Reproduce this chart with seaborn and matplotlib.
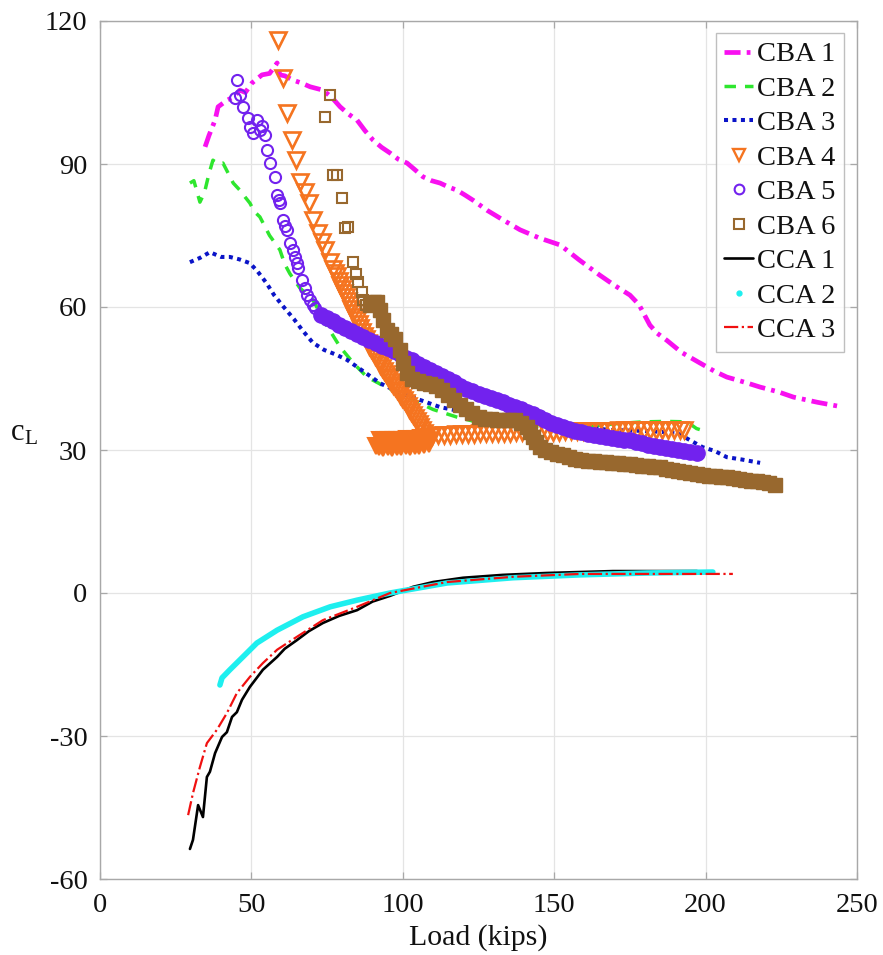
import numpy as np
import matplotlib
matplotlib.use("Agg")
import matplotlib.pyplot as plt
from matplotlib.lines import Line2D
import seaborn as sns

# ---------------- data ----------------
cba1_load = [34.7, 36, 38, 39, 42, 44, 46.2, 48, 50.2, 53.5, 56, 58.5, 59.4, 61, 63.7, 66.5, 69.4, 73.6,
             76.5, 79.3, 82, 84.9, 87.5, 90.2, 93, 95.8, 98.5, 101.4, 104, 106.7, 109.5, 112.3, 115,
             117.9, 120.5, 123.2, 127.8, 133, 138.7, 145, 152, 158, 165, 170, 175, 178, 181.6, 184,
             187.2, 192, 198, 203, 207, 213, 218, 224, 229, 237, 245.4]
cba1_cl = [93.6, 96, 99.2, 102, 103.4, 104, 105.5, 105, 107, 108.7, 109, 111.2, 108.7, 108.5, 107.6, 107,
           106.2, 105.5, 104, 102, 100.5, 99.2, 97, 95, 93.5, 92.3, 91, 90.2, 88.8, 87.3, 86.5, 86, 85.2,
           84.5, 83.5, 82.4, 80.3, 78.3, 76.2, 74.5, 73, 70, 66.7, 64.5, 62.5, 60.5, 56.2, 54.5, 53,
           50.5, 48.3, 46.5, 45.3, 44.2, 43.2, 42.2, 41.1, 40, 39]

cba2_load = [29.7, 31, 33, 34.5, 36, 37.3, 39, 40.6, 42.3, 44, 46.2, 48, 49.5, 51, 52.8, 56, 59.4, 61,
             62.7, 66, 70.3, 75, 79.3, 84, 88.2, 95, 103.4, 110, 117.9, 125.5, 135, 145, 159.5, 170,
             179.3, 187, 193.9, 197, 200.5]
cba2_cl = [86, 86.5, 82, 84, 88, 90.8, 90, 90.2, 88.1, 86, 84.5, 83, 81.8, 80, 78.9, 75, 72, 69, 67, 64,
           61.5, 56, 51.6, 48, 45.3, 43, 40.5, 38.5, 36.9, 35.7, 35.2, 35, 34.8, 35.5, 35.9, 36, 35.9,
           34.5, 33.8]

cba3_load = [29.7, 33, 36.3, 40, 42.9, 46, 49.5, 52, 55, 57.5, 60.4, 64, 67, 70.3, 74, 78, 81.6, 87,
             92.5, 99, 105.7, 112.3, 120, 130, 140, 150, 160, 168.4, 180, 190.6, 195, 199, 203, 207,
             212, 218]
cba3_cl = [69.4, 70.3, 71.5, 70.5, 70.5, 70, 69.2, 67.5, 65, 62.5, 60.2, 57.5, 55, 52.5, 51, 50, 48.9,
           46.5, 44, 42, 40.5, 39, 38, 37.3, 36.5, 35.5, 34.8, 34.2, 34, 33.6, 32, 30.6, 29.8, 28.5,
           28, 27.3]

cba4_load = [58.8, 60.4, 61.8, 63.4, 64.7, 66, 67.7, 69, 70.3, 72, 73.3, 74.3, 76,
             77, 78.2, 79.4, 80.6, 81.8, 83, 84.2, 85.4, 86.6, 87.8, 89, 90.2, 91.4, 92.6, 93.8, 95,
             96.2, 97.4, 98.6, 99.8, 101, 102.2, 103.4, 104.6, 105.8, 107, 108.2,
             109.5, 111.5, 113.5, 115.5, 117.5, 119.5, 121.5, 123.5, 125.5, 127.5, 129.5, 131.5,
             133.5, 135.5, 137.5, 139.5, 141.5, 143.5, 145.5, 147.5, 149.5, 151.5, 153.5, 155.5,
             157.5, 159.5, 161.5, 163.5, 165.5, 167.5, 169.5, 171.5, 173.5, 175.5, 177.5, 179.5,
             181.5, 183.5, 185.5, 187.5, 189.5, 191.5, 193]
cba4_cl = [116, 108, 100.7, 95, 90.8, 86.2, 84.1, 81.8, 78.3, 75.5, 73.6, 72, 69.4,
           68, 66.4, 64.7, 63, 61.3, 59.6, 58, 56.4, 54.8, 53.3, 51.8, 50.5, 49.2, 47.9, 46.6, 45.4,
           44.3, 43.2, 42.1, 41, 39.8, 38.6, 37.4, 36.1, 34.8, 33.5, 32.2,
           33.0, 33.1, 33.2, 33.2, 33.3, 33.3, 33.4, 33.4, 33.5, 33.5, 33.5, 33.6, 33.6, 33.6,
           33.7, 33.7, 33.7, 33.7, 33.8, 33.8, 33.8, 33.8, 33.9, 33.9, 33.9, 33.9, 34.0, 34.0,
           34.0, 34.0, 34.0, 34.1, 34.1, 34.1, 34.1, 34.1, 34.1, 34.2, 34.2, 34.2, 34.2, 34.2, 34.1]
# dense middle readings of the descending CBA 4 band
cba4_mid_load = [77.6, 78.8, 80, 81.2, 82.4, 83.6, 84.8, 86, 87.2, 88.4, 89.6, 90.8, 92, 93.2, 94.4,
                 95.6, 96.8, 98, 99.2, 100.4, 101.6, 102.8, 104, 105.2, 106.4, 107.6]
cba4_mid_cl = [67.2, 65.5, 63.8, 62.1, 60.4, 58.8, 57.2, 55.6, 54.0, 52.5, 51.1, 49.8, 48.5, 47.2,
               46.0, 44.8, 43.7, 42.6, 41.5, 40.4, 39.2, 38.0, 36.7, 35.4, 34.1, 32.8]
cba4_blob_load = [108.5, 107, 105.5, 104, 102.5, 101, 99.5, 98, 96.5, 95, 93.5, 92, 91.2,
                  92.5, 94, 95.5, 97, 98.5, 100, 101.5, 103, 104.5, 106, 107.5]
cba4_blob_cl = [31.2, 31.0, 30.8, 30.9, 30.7, 30.8, 30.6, 30.7, 30.5, 30.6, 30.4, 30.6, 30.9,
                32.0, 32.1, 32.0, 32.2, 32.1, 32.2, 32.3, 32.2, 32.4, 32.5, 32.6]

cba5_load = [45.2, 44.6, 46.2, 47.2, 48.9, 49.5, 50.5, 51.8, 52.8, 54.5, 53.5, 55.2, 56.1, 57.8, 58.5,
             59, 59.4, 60.4, 61.2, 61.8, 62.7, 63.7, 64.3, 65, 65.4, 66.7, 67.7, 68.5, 69.4, 70.2,
             71, 72.7]
cba5_cl = [107.6, 103.8, 104.5, 102, 99.6, 97.8, 96.5, 99.2, 97.1, 96.1, 98, 93, 90.2, 87.3, 83.5,
           82.5, 81.8, 78.3, 77, 76.2, 73.4, 72, 70.5, 69.2, 68.2, 65.7, 64, 62.5, 61.5, 60.5, 59.8,
           58.3]
cba5_band_load = [73, 75, 77, 79, 81, 83, 85, 87, 89, 91, 93, 95, 97, 99, 101, 103, 105, 107, 109, 111,
                  113, 115, 117, 119, 121, 123, 125, 127, 129, 131, 133, 135, 137, 139, 141, 143, 145,
                  147, 149, 151, 153, 155, 157, 159, 161, 163, 165, 167, 169, 171, 173, 175, 177, 179,
                  181, 183, 185, 187, 189, 191, 193, 195, 197]
cba5_band_cl = [58.3, 57.7, 57.0, 56.3, 55.6, 55.0, 54.3, 53.7, 53.1, 52.5, 51.9, 51.3, 50.7, 50.1,
                49.4, 48.8, 48.1, 47.5, 46.8, 46.1, 45.5, 44.8, 44.2, 43.5, 42.9, 42.4, 41.8, 41.3,
                40.9, 40.5, 40.0, 39.5, 39.0, 38.5, 38.0, 37.5, 36.9, 36.3, 35.7, 35.2, 34.8, 34.4,
                34.0, 33.7, 33.4, 33.2, 33.0, 32.8, 32.6, 32.4, 32.2, 32.0, 31.7, 31.4, 31.1, 30.8,
                30.6, 30.4, 30.2, 30.0, 29.8, 29.6, 29.4]

cba6_load = [76, 74.3, 77, 78.3, 79.9, 81, 82, 83.6, 84.5, 85.2, 86.5, 86.9, 88]
cba6_cl = [104.5, 99.8, 87.7, 87.7, 82.9, 76.6, 76.8, 69.4, 67, 65.2, 63.2, 61.5, 60.5]
cba6_band_load = [89.2, 90.5, 91.5, 92.5, 93.5, 94.8, 96, 97.5, 99, 100.1, 101.4, 103, 105, 107, 109,
                  111, 113, 115, 117, 119, 121, 123, 125, 127, 129, 131, 133, 135, 137, 139, 141, 142,
                  143, 144, 145.3, 147, 149, 151, 153, 155, 157, 159, 161, 163, 165, 167, 169, 171,
                  173, 175, 177, 179, 181, 183, 185, 187, 189, 191, 193, 195, 197, 199, 201, 203,
                  205, 207, 209, 211, 213, 215, 217, 219, 221, 223]
cba6_band_cl = [60.4, 61, 61, 59.4, 57.3, 55.2, 54.3, 53.2, 51, 48.3, 46.2, 44.9, 44.5, 44.1, 43.9,
                43.5, 42.5, 41.5, 40.5, 39.4, 38.5, 37.8, 36.9, 36.6, 36.4, 36.3, 36.3, 36.3, 36.2,
                35.6, 34.8, 33.8, 32.7, 31.6, 30.6, 30.0, 29.5, 29.2, 28.9, 28.5, 28.1, 27.8, 27.6,
                27.6, 27.5, 27.4, 27.3, 27.2, 27.1, 27.0, 26.8, 26.7, 26.6, 26.5, 26.4, 26.0, 25.8,
                25.6, 25.3, 25.1, 24.9, 24.7, 24.6, 24.5, 24.4, 24.3, 24.1, 23.9, 23.7, 23.6, 23.4,
                23.2, 23.0, 22.7]

cca1_load = [29.7, 30.7, 32.4, 34, 35.3, 36.3, 38, 40.3, 41.9, 43.6, 45.2, 46.9, 49.5, 53.8, 58.5,
             61, 65, 69, 73.6, 79, 84.9, 90, 95.8, 103.4, 110, 119.9, 133, 147.6, 169.4, 197.2]
cca1_cl = [-53.7, -51.8, -44.5, -47, -38.6, -37.5, -33.6, -30.2, -29.2, -26, -25, -22.4, -19.7,
           -16.1, -13.4, -11.7, -9.9, -8, -6.3, -4.8, -3.6, -1.8, -0.6, 1.3, 2.3, 3.2, 3.8, 4.2,
           4.6, 4.6]

cca2_load = [39.6, 40.3, 42.9, 47.2, 51.8, 58.5, 67, 76, 84.9, 95.8, 114.6, 136.4, 158.5, 180.6, 202.4]
cca2_cl = [-19.3, -17.8, -16.1, -13.4, -10.5, -7.8, -5, -2.9, -1.5, 0, 2.1, 3.2, 3.8, 4.2, 4.4]

cca3_load = [29.1, 30.7, 33, 35.3, 38.6, 41.9, 45.2, 49.5, 53.8, 58.5, 65, 73.6, 84.9, 95.8, 114.6,
             136.4, 158.5, 180.6, 209]
cca3_cl = [-46.6, -42, -36.5, -31.5, -28.7, -25.2, -21, -17.6, -14.7, -11.9, -9.2, -5.7, -2.9, 0,
           2.3, 3.4, 4, 4, 4]

labels = ["CBA 1", "CBA 2", "CBA 3", "CBA 4", "CBA 5", "CBA 6", "CCA 1", "CCA 2", "CCA 3"]
x_ticks = [0, 50, 100, 150, 200, 250]
y_ticks = [-60, -30, 0, 30, 60, 90, 120]

# ---------------- styling ----------------
sns.set_theme(style="ticks")
plt.rcParams["font.family"] = ["Liberation Serif", "DejaVu Serif"]
plt.rcParams["mathtext.fontset"] = "stix"

C_MAG = "#F810F0"
C_GRN = "#2EE62E"
C_BLU = "#0A14C8"
C_ORG = "#F57420"
C_PUR = "#7222EE"
C_BRN = "#98682E"
C_BLK = "#000000"
C_CYN = "#1EEFEF"
C_RED = "#F01010"

fig = plt.figure(figsize=(8.83, 9.55), dpi=100)
ax = fig.add_axes([100 / 883, 1 - 879 / 955, 757 / 883, 858 / 955])


def draw(x, y, **kw):
    sns.lineplot(x=np.asarray(x, float), y=np.asarray(y, float), ax=ax, sort=False,
                 estimator=None, errorbar=None, legend=False, **kw)


ls_mag = (0, (3.4, 1.3, 0.8, 1.3))
ls_grn = (0, (3.3, 2.6))
ls_blu = (0, (1.0, 1.1))

draw(cba1_load, cba1_cl, color=C_MAG, linewidth=3.4, linestyle=ls_mag)
draw(cba2_load, cba2_cl, color=C_GRN, linewidth=2.5, linestyle=ls_grn)
draw(cba3_load, cba3_cl, color=C_BLU, linewidth=2.9, linestyle=ls_blu)

draw(cba4_blob_load, cba4_blob_cl, color=C_ORG, linestyle="none", marker="v", markersize=12,
     markerfacecolor=C_ORG, markeredgecolor=C_ORG, markeredgewidth=1.5)
draw(cba4_load, cba4_cl, color=C_ORG, linestyle="none", marker="v", markersize=11.5,
     markerfacecolor="none", markeredgecolor=C_ORG, markeredgewidth=1.9)
draw(cba4_mid_load, cba4_mid_cl, color=C_ORG, linestyle="none", marker="v", markersize=11.5,
     markerfacecolor="none", markeredgecolor=C_ORG, markeredgewidth=1.9)

draw(cba5_load, cba5_cl, color=C_PUR, linestyle="none", marker="o", markersize=8,
     markerfacecolor="none", markeredgecolor=C_PUR, markeredgewidth=1.5)
draw(cba5_band_load, cba5_band_cl, color=C_PUR, linestyle="none", marker="o", markersize=11,
     markerfacecolor=C_PUR, markeredgecolor=C_PUR, markeredgewidth=1.0)

draw(cba6_load, cba6_cl, color=C_BRN, linestyle="none", marker="s", markersize=7,
     markerfacecolor="none", markeredgecolor=C_BRN, markeredgewidth=1.5)
draw(cba6_band_load, cba6_band_cl, color=C_BRN, linestyle="none", marker="s", markersize=9.5,
     markerfacecolor=C_BRN, markeredgecolor=C_BRN, markeredgewidth=1.0)

draw(cca1_load, cca1_cl, color=C_BLK, linewidth=1.9)
draw(cca2_load, cca2_cl, color=C_CYN, linewidth=4.0)
draw(cca3_load, cca3_cl, color=C_RED, linewidth=1.6, linestyle="-.")

# ---------------- axes ----------------
ax.set_xlim(0, 250)
ax.set_ylim(-60, 120)
ax.set_xticks(x_ticks)
ax.set_yticks(y_ticks)
ax.set_xticklabels([str(v) for v in x_ticks])
ax.set_yticklabels([str(v) for v in y_ticks])
ax.grid(True, color="#E4E4E4", linewidth=0.9)
ax.set_axisbelow(True)
for s in ax.spines.values():
    s.set_visible(True)
    s.set_color("#A8A8A8")
    s.set_linewidth(1.0)
ax.tick_params(direction="in", length=5, width=0.9, color="#A8A8A8", labelsize=20.5,
               top=True, right=True, labelcolor="#111111")
ax.tick_params(axis="y", pad=9)
ax.tick_params(axis="x", pad=10)

ax.set_xlabel("Load (kips)", fontsize=21.5, color="#111111")
ax.xaxis.set_label_coords(0.5, -0.052)
ax.xaxis.label.set_va("top")
ax.set_ylabel("c$_\\mathregular{L}$", fontsize=22, rotation=0, color="#111111")
ax.yaxis.set_label_coords(-0.100, 0.520)
ax.yaxis.label.set_va("center")
ax.yaxis.label.set_ha("center")

# ---------------- legend ----------------
handles = [
    Line2D([], [], color=C_MAG, lw=3.4, ls=ls_mag),
    Line2D([], [], color=C_GRN, lw=2.5, ls=ls_grn),
    Line2D([], [], color=C_BLU, lw=2.9, ls=ls_blu),
    Line2D([], [], color=C_ORG, ls="none", marker="v", ms=9, mfc="none", mec=C_ORG, mew=1.7),
    Line2D([], [], color=C_PUR, ls="none", marker="o", ms=7, mfc="none", mec=C_PUR, mew=1.5),
    Line2D([], [], color=C_BRN, ls="none", marker="s", ms=7, mfc="none", mec=C_BRN, mew=1.5),
    Line2D([], [], color=C_BLK, lw=1.9),
    Line2D([], [], color=C_CYN, ls="none", marker=".", ms=7),
    Line2D([], [], color=C_RED, lw=1.6, ls="-."),
]
leg = ax.legend(handles, labels, loc="upper right", bbox_to_anchor=(0.983, 0.986),
                borderaxespad=0, fontsize=20.5, frameon=True, fancybox=False,
                handlelength=1.0, handletextpad=0.15, labelspacing=0.3, borderpad=0.3)
leg.get_frame().set_edgecolor("#B0B0B0")
leg.get_frame().set_linewidth(1.0)
for t in leg.get_texts():
    t.set_color("#111111")

fig.savefig("out.png", dpi=100, facecolor="white")
